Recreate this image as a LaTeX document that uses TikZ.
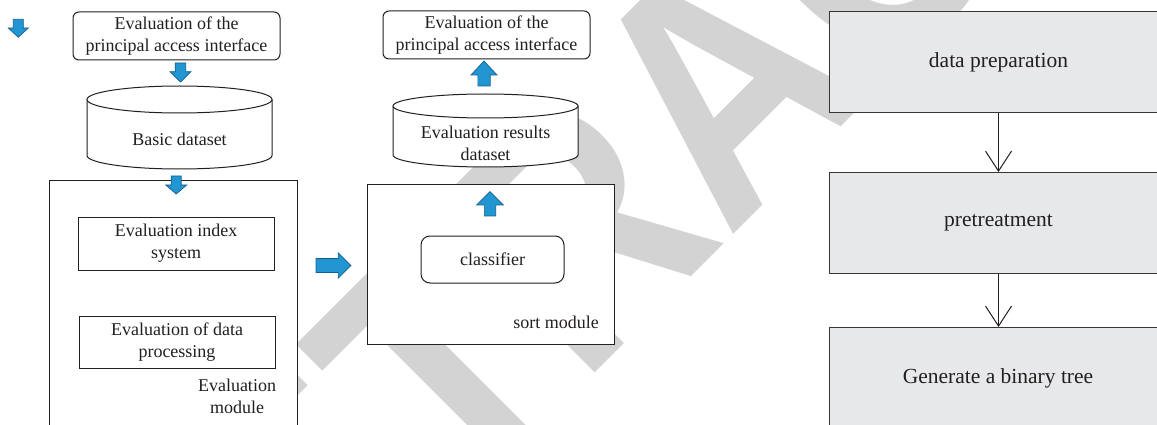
\documentclass[tikz,border=0pt]{standalone}
\usepackage{fontspec}
\setmainfont{Liberation Serif}
\newfontfamily\wmfam{Liberation Sans}
\usetikzlibrary{arrows.meta}
\definecolor{ablue}{RGB}{33,150,211}
\definecolor{ablueb}{RGB}{22,94,140}
\definecolor{wmgray}{RGB}{211,211,211}
\definecolor{boxgray}{RGB}{231,232,234}
\definecolor{ink}{RGB}{35,31,32}
\tikzset{
  pics/barrow/.style n args={4}{code={
    \draw[ablueb, fill=ablue, line width=0.7pt, line join=miter]
      (-#1/2,-#3/2) -- ({#1/2-#4},-#3/2) -- ({#1/2-#4},-#2/2) -- (#1/2,0)
      -- ({#1/2-#4},#2/2) -- ({#1/2-#4},#3/2) -- (-#1/2,#3/2) -- cycle;
    \coordinate (-c) at (0,0);
  }},
  lbox/.style={draw=ink, fill=white, line width=1pt, inner sep=0pt, align=center, text=ink, font=\fontsize{18}{22}\selectfont},
  rbox/.style={draw=ink!90, fill=boxgray, line width=1pt, inner sep=0pt, align=center, text=ink, font=\fontsize{21.5}{26}\selectfont, minimum width=338pt, anchor=north west},
  lbl/.style={inner sep=0pt, align=center, text=ink, font=\fontsize{18}{22}\selectfont},
  flow/.style={draw=ink, line width=1pt, -{Straight Barb[length=20pt,width=26pt,line width=1pt]}},
  cyl/.style={draw=ink, line width=1pt, fill=white}
}
\begin{document}
\begin{tikzpicture}[x=1pt,y=-1pt]
\useasboundingbox (0,0) rectangle (1157,425);
\clip (0,0) rectangle (1157,425);
% watermark
\node[rotate=45, xscale=0.857, anchor=base west, inner sep=0pt, text=wmgray, font=\wmfam\bfseries\fontsize{336}{336}\selectfont] (wm) at (174.3,793.7) {RETRACTED};
% left column
\pic[rotate=-90] (a0) at (18.3,28.3) {barrow={18}{20}{10}{9.3}};
\node[lbox, rounded corners=6pt, minimum width=207pt, minimum height=48pt] (top1) at (176.5,36) {Evaluation of the\\principal access interface};
\pic[rotate=-90] (a1) at (180.5,72.5) {barrow={19}{21}{10.7}{10.3}};
% cylinder 1
\fill[white] (87,99.5) rectangle (272,155.5);
\fill[white] (179.5,155.5) ellipse [x radius=92.5, y radius=13.5];
\draw[cyl, fill=none] (87,99.5) -- (87,155.5) arc[start angle=180, end angle=0, x radius=92.5, y radius=13.5] -- (272,99.5);
\draw[cyl] (179.5,99.5) ellipse [x radius=92.5, y radius=13.5];
\node[lbl] (basic) at (179.5,139) {Basic dataset};
% evaluation module
\node[lbox, anchor=north west, minimum width=248pt, minimum height=260pt] (evalmod) at (49,180) {};
\pic[rotate=-90] (a2) at (176.2,185) {barrow={18}{21}{10}{9}};
\node[lbox, minimum width=196pt, minimum height=53pt] (idx) at (176,243.5) {Evaluation index\\system};
\node[lbox, minimum width=196pt, minimum height=52pt] (proc) at (177,342) {Evaluation of data\\processing};
\node[lbl] (evallbl) at (237,396) {Evaluation\\module};
\pic (a3) at (333.5,265.5) {barrow={35}{25}{14}{12.7}};
% middle column
\node[lbox, rounded corners=6pt, minimum width=207pt, minimum height=48pt] (top2) at (486.5,35) {Evaluation of the\\principal access interface};
\pic[rotate=90] (a4) at (484,73.5) {barrow={25}{26}{12.3}{14}};
% cylinder 2
\fill[white] (393,106) rectangle (578,155);
\fill[white] (485.5,155) ellipse [x radius=92.5, y radius=12];
\draw[cyl, fill=none] (393,106) -- (393,155) arc[start angle=180, end angle=0, x radius=92.5, y radius=12] -- (578,106);
\draw[cyl] (485.5,106) ellipse [x radius=92.5, y radius=12];
\node[lbl] (resds) at (485.5,143.5) {Evaluation results\\dataset};
% sort module
\node[lbox, minimum width=247pt, minimum height=159pt] (sortmod) at (490.5,264.5) {};
\pic[rotate=90] (a5) at (490,203.8) {barrow={24.3}{26.6}{11.3}{13.3}};
\node[lbox, rounded corners=9pt, minimum width=143pt, minimum height=47pt] (clf) at (492.5,259.5) {classifier};
\node[lbl, anchor=east] (sortlbl) at (599,322) {sort module};
% right column
\node[rbox, minimum height=101pt] (dp) at (829,11) {data preparation};
\node[rbox, minimum height=101pt] (pt) at (829,172) {pretreatment};
\node[rbox, minimum height=113pt] (gen) at (829,327) {};
\node[lbl, font=\fontsize{21.5}{26}\selectfont] (gentxt) at (998,378) {Generate a binary tree};
\draw[flow] (dp.south) -- (pt.north);
\draw[flow] (pt.south) -- (gen.north);
\end{tikzpicture}
\end{document}
